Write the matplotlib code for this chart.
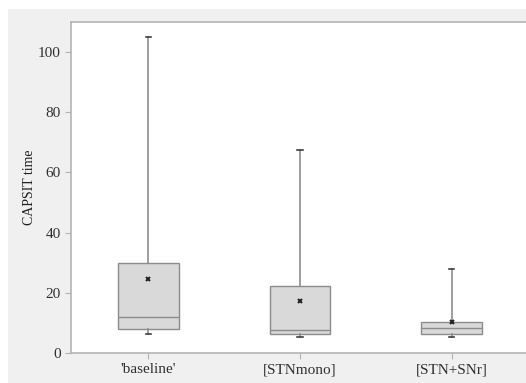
import matplotlib.pyplot as plt
from matplotlib.patches import Rectangle

groups = ["'baseline'", "[STNmono]", "[STN+SNr]"]
whisker_low = [6.3, 5.4, 5.2]
q1 = [8.0, 6.4, 6.4]
median = [12.0, 7.5, 8.4]
q3 = [30.0, 22.4, 10.4]
whisker_high = [105.0, 67.4, 27.9]
mean = [24.5, 17.4, 10.2]

plt.rcParams['font.family'] = ['Liberation Serif', 'DejaVu Serif']

fig = plt.figure(figsize=(5.26, 3.83), dpi=100)
fig.patch.set_facecolor('white')
# grey panel behind the plot
fig.patches.append(Rectangle((8 / 526, 0.0), 1.0, 1 - 9 / 383,
                             transform=fig.transFigure, facecolor='#f0f0f0',
                             edgecolor='none', zorder=-10))

ax = fig.add_axes([71 / 526, 30 / 383, 1 - 71 / 526, 331 / 383])
ax.set_facecolor('white')

stats = []
for i in range(len(groups)):
    stats.append(dict(label=groups[i], whislo=whisker_low[i], q1=q1[i],
                      med=median[i], q3=q3[i], whishi=whisker_high[i],
                      mean=mean[i], fliers=[]))

ax.bxp(stats, positions=[1, 2, 3], widths=0.4, patch_artist=True,
       showmeans=True, capwidths=0.035,
       boxprops=dict(facecolor='#d9d9d9', edgecolor='#8c8c8c', linewidth=1),
       medianprops=dict(color='#8c8c8c', linewidth=1),
       whiskerprops=dict(color='#8c8c8c', linewidth=1.2),
       capprops=dict(color='#404040', linewidth=1.2),
       meanprops=dict(marker='x', markersize=3.5, markeredgecolor='#202020',
                      markeredgewidth=1.4))

ax.set_xlim(0.49, 3.49)
ax.set_ylim(0, 110)
ax.set_yticks([0, 20, 40, 60, 80, 100])
ax.set_ylabel('CAPSIT time', fontsize=10, color='#202020', labelpad=1)

for side in ['left', 'bottom', 'top']:
    ax.spines[side].set_color('#b4b4b4')
    ax.spines[side].set_linewidth(1.2)
ax.spines['right'].set_visible(False)
ax.tick_params(axis='both', direction='out', length=4, color='#b4b4b4',
               labelsize=11, labelcolor='#303030')

fig.savefig('out.png', dpi=100)
